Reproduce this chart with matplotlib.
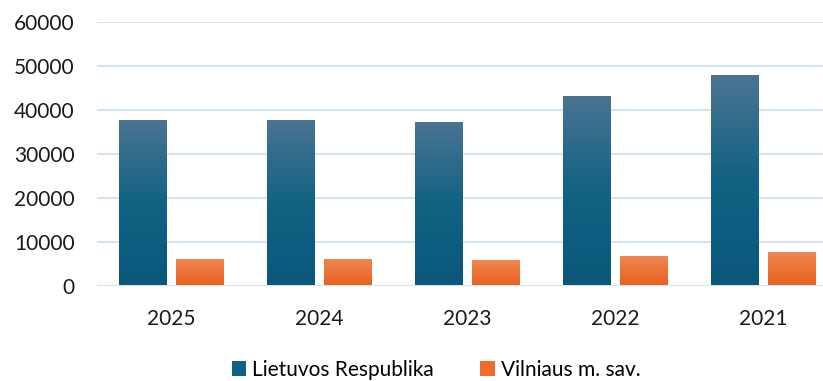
import matplotlib
matplotlib.use("Agg")
import matplotlib.pyplot as plt
import numpy as np
from matplotlib.colors import LinearSegmentedColormap
from matplotlib.patches import Patch

plt.rcParams['font.family'] = ['Lato', 'DejaVu Sans']

# Values per year
years = ['2025', '2024', '2023', '2022', '2021']
lietuva = [37500, 37500, 37000, 43000, 47700]
vilnius = [5800, 5800, 5600, 6500, 7400]
series_names = ['Lietuvos Respublika', 'Vilniaus m. sav.']

blue_cmap = LinearSegmentedColormap.from_list(
    'blue_grad', [(0.0, '#4a7492'), (0.5, '#126284'), (1.0, '#0a577a')])
orange_cmap = LinearSegmentedColormap.from_list(
    'orange_grad', [(0.0, '#ef8752'), (1.0, '#e8611e')])


def gradient_bars(ax, bars, cmap):
    """Paint each bar with a vertical top-to-bottom gradient."""
    grad = np.linspace(0, 1, 256).reshape(-1, 1)
    for bar in bars:
        x, y = bar.get_x(), bar.get_y()
        w, h = bar.get_width(), bar.get_height()
        bar.set_facecolor('none')
        bar.set_edgecolor('none')
        ax.imshow(grad, cmap=cmap, aspect='auto', origin='upper',
                  extent=(x, x + w, y, y + h), zorder=3, interpolation='bilinear')


fig = plt.figure(figsize=(8.23, 3.81), dpi=100)
ax = fig.add_axes([97 / 823, (381 - 285.5) / 381, 740 / 823, 263.5 / 381])

x = np.arange(len(years))
width = 0.318
offset = 0.193
bars1 = ax.bar(x - offset, lietuva, width, zorder=3)
bars2 = ax.bar(x + offset, vilnius, width, zorder=3)
gradient_bars(ax, bars1, blue_cmap)
gradient_bars(ax, bars2, orange_cmap)

ax.set_xlim(-0.5, len(years) - 0.5)
ax.set_ylim(0, 60000)
ax.set_yticks(np.arange(0, 60001, 10000))
ax.set_xticks(x)
ax.set_xticklabels(years)
ax.yaxis.grid(True, color='#d3e2f3', linewidth=1.5, zorder=0)
ax.set_axisbelow(True)
for s in ax.spines.values():
    s.set_visible(False)
ax.tick_params(axis='both', length=0, labelsize=15, colors='#1a1a1a')
ax.tick_params(axis='x', pad=17)
ax.tick_params(axis='y', pad=16)

handles = [Patch(facecolor='#11618a', edgecolor='none'),
           Patch(facecolor='#ee6d2d', edgecolor='none')]
fig.legend(handles, series_names, loc='center', bbox_to_anchor=(436 / 823, 1 - 370 / 381),
           ncol=2, frameon=False, fontsize=15, handlelength=0.7, handleheight=0.7,
           handletextpad=0.3, columnspacing=2.2)

fig.savefig('out.png', dpi=100)
